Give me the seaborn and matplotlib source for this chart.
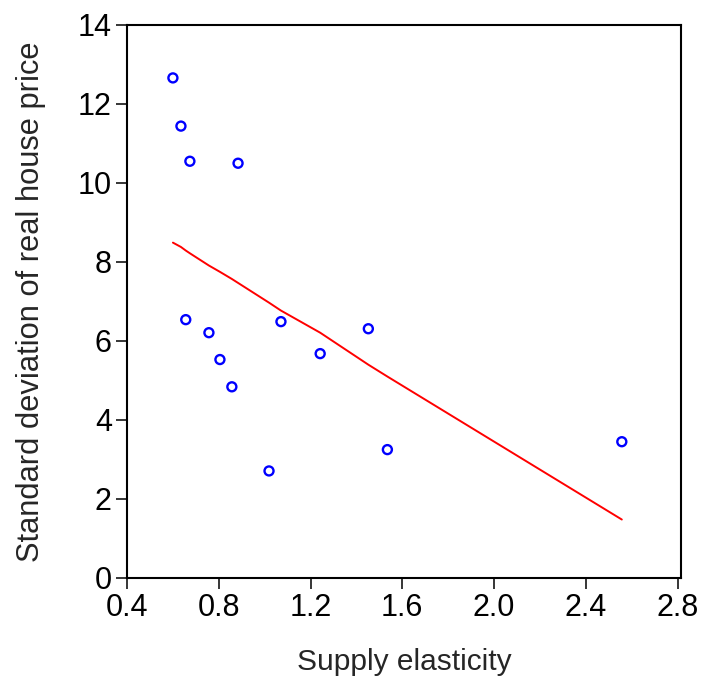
import matplotlib
matplotlib.use("Agg")
import matplotlib.pyplot as plt
import seaborn as sns
import pandas as pd

# Elasticidade da oferta x desvio padrão do preço real
elasticidade = [0.600, 0.635, 0.674, 0.884, 0.656, 0.757, 0.805, 0.857,
                1.019, 1.071, 1.242, 1.452, 1.535, 2.557]
desvio_padrao = [12.66, 11.44, 10.55, 10.50, 6.54, 6.21, 5.53, 4.84,
                 2.71, 6.49, 5.68, 6.31, 3.25, 3.45]

ajuste_x = [0.600, 0.635, 0.656, 0.674, 0.757, 0.805, 0.857, 0.884,
            1.019, 1.071, 1.242, 1.452, 1.535, 2.557]
ajuste_y = [8.49, 8.38, 8.29, 8.22, 7.91, 7.75, 7.57, 7.47,
            6.97, 6.77, 6.21, 5.40, 5.10, 1.48]

dados = pd.DataFrame({'x': elasticidade, 'y': desvio_padrao})
curva = pd.DataFrame({'x': ajuste_x, 'y': ajuste_y})

sns.set_style('ticks')
plt.rcParams['font.family'] = ['Liberation Sans', 'DejaVu Sans']

fig = plt.figure(figsize=(7.03, 6.88), dpi=100)
ax = fig.add_axes([0.1807, 0.1599, 0.7880, 0.8038])

sns.lineplot(data=curva, x='x', y='y', color='red', linewidth=1.4, ax=ax,
             estimator=None, sort=False)
sns.scatterplot(data=dados, x='x', y='y', ax=ax, marker='o', s=42,
                facecolor='none', edgecolor='blue', linewidth=1.7, zorder=3)

ax.set_xlim(0.4, 2.815)
ax.set_ylim(0, 14)
ax.set_xticks([0.4, 0.8, 1.2, 1.6, 2.0, 2.4, 2.8])
ax.set_xticklabels(['0.4', '0.8', '1.2', '1.6', '2.0', '2.4', '2.8'])
ax.set_yticks([0, 2, 4, 6, 8, 10, 12, 14])
ax.tick_params(axis='both', direction='out', length=8, width=1.1,
               labelsize=22, color='black', labelcolor='black', pad=3)
for lado in ax.spines.values():
    lado.set_visible(True)
    lado.set_linewidth(1.5)
    lado.set_color('black')

ax.set_xlabel('Supply elasticity', fontsize=21.5, labelpad=18)
ax.set_ylabel('Standard deviation of real house price', fontsize=22.2, labelpad=23)

fig.savefig('out.png', dpi=100)
